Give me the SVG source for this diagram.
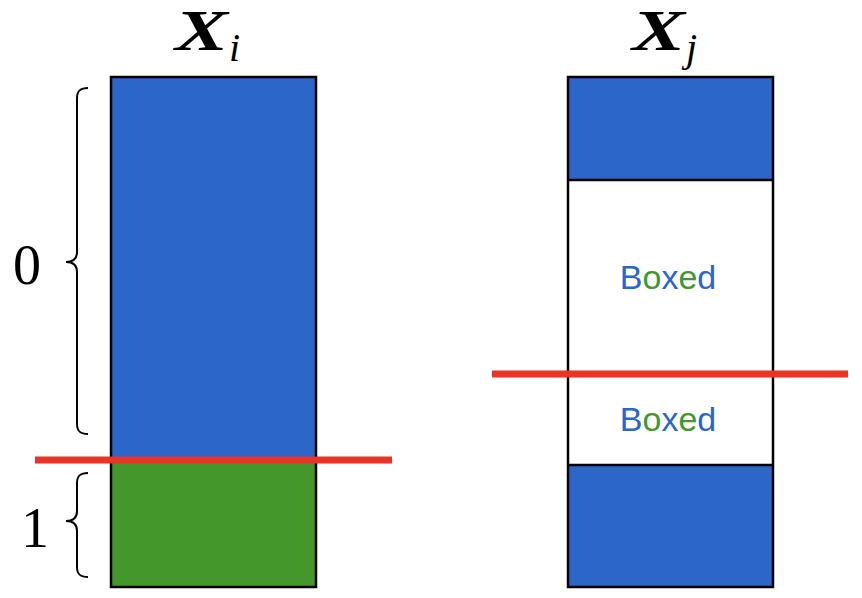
<svg xmlns="http://www.w3.org/2000/svg" width="862" height="598" viewBox="0 0 862 598">
<style>
.blue{fill:#2b66c8}
.green{fill:#43972b}
.frame{fill:none;stroke:#000;stroke-width:2.5}
.sep{stroke:#000;stroke-width:2.5}
.cut{stroke:#e93527;stroke-width:7}
.brace{fill:none;stroke:#000;stroke-width:2}
.math{font-family:"Liberation Serif","DejaVu Serif",serif;fill:#000}
.lbl{font-family:"Liberation Sans",Arial,sans-serif;font-size:34px;text-anchor:middle}
.tb{fill:#2b66c8}
.tg{fill:#43972b}
</style>
<rect width="862" height="598" fill="#fff"/>
<g id="Xi">
<text class="math" x="175" y="50" font-size="57" font-style="italic" font-weight="bold" textLength="53" lengthAdjust="spacingAndGlyphs">X</text>
<text class="math" x="229" y="61" font-size="40" font-style="italic">i</text>
<rect class="blue" x="111" y="77" width="205" height="383"/>
<rect class="green" x="111" y="460" width="205" height="127"/>
<rect class="frame" x="111" y="77" width="205" height="510"/>
</g>
<g id="Xj">
<text class="math" x="632" y="50" font-size="57" font-style="italic" font-weight="bold" textLength="53" lengthAdjust="spacingAndGlyphs">X</text>
<text class="math" x="686" y="61" font-size="40" font-style="italic">j</text>
<rect class="blue" x="568" y="77" width="205" height="103"/>
<rect class="blue" x="568" y="465" width="205" height="122"/>
<line class="sep" x1="568" y1="180" x2="773" y2="180"/>
<line class="sep" x1="568" y1="465" x2="773" y2="465"/>
<rect class="frame" x="568" y="77" width="205" height="510"/>
<text class="lbl" x="668" y="289"><tspan class="tb">B</tspan><tspan class="tg">o</tspan><tspan class="tb">x</tspan><tspan class="tg">e</tspan><tspan class="tb">d</tspan></text>
<text class="lbl" x="668" y="431"><tspan class="tb">B</tspan><tspan class="tg">o</tspan><tspan class="tb">x</tspan><tspan class="tg">e</tspan><tspan class="tb">d</tspan></text>
</g>
<g id="brace0">
<path class="brace" d="M88,88 C80,88 77,91 77,98 L77,252 C77,259 73,262 66,262 C73,262 77,265 77,272 L77,424 C77,431 80,434 88,434"/>
<text class="math" x="13" y="284" font-size="56">0</text>
</g>
<g id="brace1">
<path class="brace" d="M88,473 C80,473 77,476 77,483 L77,511 C77,518 73,521 66,521 C73,521 77,524 77,531 L77,567 C77,574 80,577 88,577"/>
<text class="math" x="21" y="547" font-size="56">1</text>
</g>
<g id="cuts">
<line class="cut" x1="35" y1="460" x2="392" y2="460"/>
<line class="cut" x1="492" y1="374" x2="848" y2="374"/>
</g>
</svg>
